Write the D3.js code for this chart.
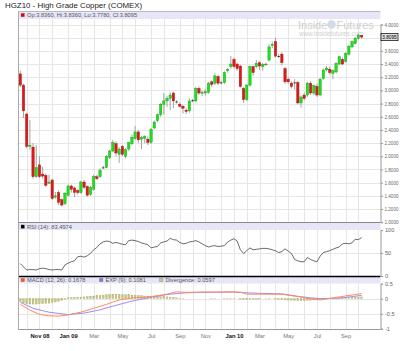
<!DOCTYPE html>
<html>
<head>
<meta charset="utf-8">
<script src="https://cdn.jsdelivr.net/npm/d3@7"></script>
<style>
body { margin: 0; background: #fff; }
svg { display: block; font-family: "Liberation Sans", Arial, sans-serif; }
</style>
</head>
<body>
<script>
// weekly candles, Sep 22 2008 .. Oct 11 2010
var opens = [3.25,3.08,2.64,2.15,2.14,1.69,1.87,1.73,1.71,1.59,1.64,1.38,1.45,1.34,1.28,1.41,1.55,1.52,1.48,1.45,
  1.61,1.54,1.42,1.50,1.69,1.69,1.83,1.83,1.98,2.08,2.19,2.03,2.15,2.00,2.11,2.19,2.27,2.37,2.26,2.27,
  2.26,2.21,2.43,2.54,2.63,2.79,2.84,2.88,2.96,2.83,2.79,2.76,2.70,2.69,2.85,2.84,3.03,2.96,2.96,2.97,
  3.13,3.11,3.21,3.12,3.12,3.30,3.36,3.47,3.40,3.37,3.03,2.86,3.08,3.36,3.36,3.42,3.36,3.39,3.46,3.68,
  3.74,3.52,3.55,3.33,3.17,3.11,3.12,3.12,2.81,2.93,2.93,3.11,2.96,3.06,2.93,3.18,3.31,3.32,3.26,3.28,
  3.40,3.47,3.44,3.55,3.66,3.71,3.79,3.836];
var highs = [3.30,3.10,2.66,2.55,2.20,2.17,2.00,1.84,1.74,1.72,1.66,1.46,1.48,1.36,1.46,1.57,1.57,1.54,1.50,1.63,
  1.64,1.56,1.55,1.72,1.72,1.82,1.86,2.02,2.10,2.25,2.23,2.14,2.17,2.12,2.22,2.33,2.46,2.40,2.31,2.32,
  2.30,2.43,2.54,2.65,2.81,2.96,2.92,2.97,2.98,2.85,2.82,2.78,2.73,2.88,2.87,3.05,3.06,3.00,3.02,3.13,
  3.15,3.26,3.24,3.14,3.29,3.34,3.52,3.50,3.42,3.39,3.05,3.10,3.38,3.38,3.46,3.44,3.42,3.42,3.70,3.74,
  3.80,3.55,3.58,3.36,3.20,3.14,3.17,3.14,2.92,2.97,3.13,3.14,3.09,3.10,3.19,3.33,3.37,3.36,3.32,3.43,
  3.53,3.50,3.58,3.69,3.76,3.81,3.86,3.836];
var lows = [3.05,2.58,2.12,2.10,1.66,1.67,1.67,1.66,1.54,1.58,1.34,1.36,1.26,1.24,1.26,1.39,1.45,1.38,1.42,1.43,
  1.50,1.39,1.40,1.48,1.64,1.67,1.81,1.82,1.96,2.06,2.00,1.90,2.00,1.97,2.08,2.17,2.25,2.20,2.11,2.20,
  2.17,2.19,2.41,2.52,2.60,2.63,2.75,2.70,2.73,2.80,2.74,2.65,2.64,2.66,2.82,2.82,2.93,2.91,2.92,2.95,
  3.05,3.08,3.08,3.09,3.10,3.27,3.33,3.33,3.30,3.04,2.81,2.84,3.06,3.22,3.34,3.31,3.30,3.37,3.44,3.64,
  3.50,3.49,3.38,3.10,3.10,3.03,3.01,2.79,2.74,2.85,2.90,2.93,2.93,2.90,2.91,3.16,3.29,3.24,3.17,3.26,
  3.38,3.38,3.42,3.53,3.64,3.70,3.77,3.778];
var closes = [3.08,2.69,2.15,2.17,1.69,1.83,1.69,1.70,1.56,1.61,1.36,1.40,1.30,1.26,1.44,1.55,1.50,1.45,1.45,1.61,
  1.53,1.41,1.53,1.69,1.66,1.79,1.83,2.00,2.08,2.21,2.05,2.11,2.03,2.10,2.21,2.29,2.37,2.25,2.29,2.30,
  2.21,2.41,2.52,2.63,2.79,2.84,2.88,2.93,2.84,2.83,2.76,2.73,2.68,2.84,2.85,3.03,2.96,2.97,2.98,3.11,
  3.09,3.22,3.11,3.12,3.27,3.32,3.40,3.36,3.33,3.06,2.86,3.08,3.36,3.27,3.41,3.37,3.39,3.40,3.66,3.70,
  3.52,3.52,3.42,3.13,3.13,3.06,3.12,2.81,2.90,2.88,3.11,2.96,3.07,2.93,3.17,3.31,3.34,3.27,3.30,3.41,
  3.51,3.40,3.56,3.67,3.74,3.79,3.84,3.8095];

var rsi = [27,20,13,14,14,13,16,17,16,14,13,14,14,13,24,28,31,33,42,43,
  41,44,49,57,62,70,74,76,75,71,73,71,69,68,77,78,77,75,72,70,
  68,61,63,64,72,74,76,82,79,78,73,70,71,74,75,77,74,70,66,63,
  65,66,64,65,66,74,78,81,76,57,49,55,61,57,58,59,60,60,59,57,
  55,51,53,59,54,49,36,33,31,31,40,36,33,31,43,51,53,55,58,61,
  63,70,71,70,72,80,79,83.5];

// MACD and signal, read at these week numbers
var macdWeek = [0,3,6,9,12,15,19,23,27,31,35,41,46,49,52,56,67,69,71,77,82,87,91,94,100,107];
var macdLine = [-0.19,-0.38,-0.52,-0.57,-0.58,-0.54,-0.45,-0.32,-0.19,-0.04,0.02,0.07,0.15,0.23,0.21,0.22,0.23,0.22,0.15,0.15,0.15,0.07,-0.01,-0.04,0.06,0.17];
var sigWeek = [0,4,9,15,20,25,30,35,41,46,51,56,67,70,75,82,87,91,94,100,104,107];
var sigLine = [-0.12,-0.32,-0.45,-0.53,-0.48,-0.37,-0.22,-0.08,0.05,0.14,0.19,0.21,0.22,0.20,0.18,0.16,0.08,0.03,0.0,0.02,0.07,0.11];
var divergence = [-0.10,-0.14,-0.17,-0.18,-0.18,-0.18,-0.17,-0.17,-0.16,-0.15,-0.13,-0.11,-0.09,-0.06,-0.02,0.03,0.04,0.04,0.05,0.05,
  0.06,0.07,0.08,0.09,0.10,0.11,0.12,0.13,0.14,0.15,0.15,0.15,0.14,0.13,0.13,0.12,0.12,0.11,0.10,0.09,
  0.09,0.08,0.08,0.08,0.07,0.07,0.06,0.05,0.04,0.03,0.02,0.01,0,0,0,0,0,0,0,0,
  0.01,0.01,0,0,0.01,0.01,0.01,0.01,0,-0.02,-0.03,-0.03,-0.02,-0.02,-0.02,-0.01,0,0.01,0.01,0,
  -0.01,-0.02,-0.03,-0.04,-0.05,-0.05,-0.06,-0.07,-0.07,-0.07,-0.06,-0.05,-0.04,-0.03,-0.02,-0.01,0,0.01,0.01,0.02,
  0.03,0.03,0.04,0.04,0.05,0.05,0.05,0.06];

var priceTicks = [1.0,1.2,1.4,1.6,1.8,2.0,2.2,2.4,2.6,2.8,3.0,3.2,3.4,3.6,3.8,4.0];
var rsiTicks = [0,50,100];
var macdTicks = [-1,-0.5,0,0.5];
var monthLabels = ["Nov 08","Jan 09","Mar","May","Jul","Sep","Nov","Jan 10","Mar","May","Jul","Sep"];

var WIDTH = 400, HEIGHT = 351;
var LEFT = 18.5, RIGHT = 380.5;
var MAIN_TOP = 11.5, MAIN_BOT = 222.5;
var RSI_BOT = 276.5, MACD_BOT = 329.5;

var svg = d3.select('body').append('svg')
  .attr('width', WIDTH)
  .attr('height', HEIGHT);

var weeks = d3.timeMonday.range(new Date(2008, 8, 22), new Date(2010, 9, 12));

var x = d3.scaleTime()
  .domain([weeks[0], weeks[weeks.length - 1]])
  .range([20.3, 361.6]);
var yP = d3.scaleLinear().domain([1, 4]).range([222.2, 24.5]);
var yR = d3.scaleLinear().domain([0, 100]).range([276, 230]);
var yM = d3.scaleLinear().domain([-1, 0.5]).range([328.7, 283.7]);

var monthStarts = weeks.filter(function (d) { return d.getDate() <= 7; });
var labelled = monthStarts.filter(function (d) { return d.getMonth() % 2 === 0; });
var last = closes[closes.length - 1];

// grid
var grid = svg.append('g').attr('stroke', '#e6e6e6').attr('stroke-width', 1);
grid.selectAll('.v').data(monthStarts).enter().append('line')
  .attr('x1', function (d) { return Math.round(x(d)) + 0.5; })
  .attr('x2', function (d) { return Math.round(x(d)) + 0.5; })
  .attr('y1', MAIN_TOP).attr('y2', MACD_BOT);
grid.selectAll('.hp').data(priceTicks.slice(1)).enter().append('line')
  .attr('x1', LEFT).attr('x2', RIGHT)
  .attr('y1', function (d) { return Math.round(yP(d)) + 0.5; })
  .attr('y2', function (d) { return Math.round(yP(d)) + 0.5; });
grid.selectAll('.hr').data([50]).enter().append('line')
  .attr('x1', LEFT).attr('x2', RIGHT)
  .attr('y1', function (d) { return Math.round(yR(d)) + 0.5; })
  .attr('y2', function (d) { return Math.round(yR(d)) + 0.5; });
grid.selectAll('.hm').data([0, -0.5]).enter().append('line')
  .attr('x1', LEFT).attr('x2', RIGHT)
  .attr('y1', function (d) { return Math.round(yM(d)) + 0.5; })
  .attr('y2', function (d) { return Math.round(yM(d)) + 0.5; });

// watermark
var wm = svg.append('g').attr('fill', '#cfcfcf');
wm.append('text').attr('x', 298).attr('y', 28.5).attr('font-size', 11).text('Inside');
wm.append('circle').attr('cx', 331.5).attr('cy', 24.5).attr('r', 4.2).attr('fill', '#d3dbe6');
wm.append('text').attr('x', 336.5).attr('y', 28.5).attr('font-size', 11).text('Futures');
wm.append('text').attr('x', 299).attr('y', 36).attr('font-size', 6.3).text('www.insidefutures.com');

// legend bands
var bands = [[MAIN_TOP, 7.5], [MAIN_BOT + 0.5, 7], [RSI_BOT + 0.5, 6.5]];
svg.selectAll('.band').data(bands).enter().append('rect')
  .attr('x', LEFT).attr('width', RIGHT - LEFT)
  .attr('y', function (d) { return d[0]; })
  .attr('height', function (d) { return d[1]; })
  .attr('fill', '#e6e6f8');

// candles
var idx = d3.range(weeks.length);
svg.append('g').selectAll('line').data(idx).enter().append('line')
  .attr('x1', function (i) { return x(weeks[i]); })
  .attr('x2', function (i) { return x(weeks[i]); })
  .attr('y1', function (i) { return yP(highs[i]); })
  .attr('y2', function (i) { return yP(lows[i]); })
  .attr('stroke', '#9a9a9a').attr('stroke-width', 0.9);

svg.append('g').selectAll('rect').data(idx).enter().append('rect')
  .attr('x', function (i) { return x(weeks[i]) - 1.2; })
  .attr('width', 2.4)
  .attr('y', function (i) { return yP(Math.max(opens[i], closes[i])); })
  .attr('height', function (i) { return Math.max(0.8, Math.abs(yP(opens[i]) - yP(closes[i]))); })
  .attr('fill', function (i) {
    if (opens[i] === closes[i]) return '#111';
    return closes[i] > opens[i] ? '#1ee01e' : '#e01818';
  })
  .attr('stroke', function (i) {
    if (opens[i] === closes[i]) return 'none';
    return closes[i] > opens[i] ? '#13a013' : '#a01010';
  })
  .attr('stroke-width', 0.4);

// RSI
svg.append('path')
  .attr('d', d3.line()
    .x(function (v, i) { return x(weeks[i]); })
    .y(function (v) { return yR(v); })(rsi))
  .attr('fill', 'none').attr('stroke', '#444').attr('stroke-width', 0.8);

// MACD
svg.append('g').selectAll('rect').data(idx).enter().append('rect')
  .attr('x', function (i) { return x(weeks[i]) - 0.9; })
  .attr('width', 1.8)
  .attr('y', function (i) { return Math.min(yM(0), yM(divergence[i])); })
  .attr('height', function (i) { return Math.abs(yM(0) - yM(divergence[i])); })
  .attr('fill', '#c4c486').attr('stroke', '#a9a95e').attr('stroke-width', 0.3);

var mline = d3.line()
  .x(function (d) { return x(weeks[d[0]]); })
  .y(function (d) { return yM(d[1]); });
svg.append('path')
  .attr('d', mline(sigWeek.map(function (w, k) { return [w, sigLine[k]]; })))
  .attr('fill', 'none').attr('stroke', '#a08cf4').attr('stroke-width', 1);
svg.append('path')
  .attr('d', mline(macdWeek.map(function (w, k) { return [w, macdLine[k]]; })))
  .attr('fill', 'none').attr('stroke', '#ff8c5a').attr('stroke-width', 1);

// borders
svg.append('line').attr('x1', LEFT).attr('x2', RIGHT).attr('y1', MAIN_TOP).attr('y2', MAIN_TOP).attr('stroke', '#b8b8c8');
svg.append('line').attr('x1', LEFT).attr('x2', RIGHT).attr('y1', MAIN_BOT).attr('y2', MAIN_BOT).attr('stroke', '#888');
svg.append('line').attr('x1', LEFT).attr('x2', RIGHT).attr('y1', RSI_BOT).attr('y2', RSI_BOT).attr('stroke', '#000').attr('stroke-width', 1.5);
svg.append('line').attr('x1', LEFT).attr('x2', RIGHT).attr('y1', MACD_BOT).attr('y2', MACD_BOT).attr('stroke', '#999');
svg.append('line').attr('x1', LEFT).attr('x2', LEFT).attr('y1', MAIN_TOP).attr('y2', MACD_BOT).attr('stroke', '#aaa');

// right axes
function styleAxis(g) {
  g.select('.domain').attr('stroke', '#999');
  g.selectAll('.tick line').attr('stroke', '#999');
  g.selectAll('.tick text').attr('fill', '#666').attr('font-size', 5.6);
}
var priceAxis = svg.append('g').attr('transform', 'translate(' + RIGHT + ',0)')
  .call(d3.axisRight(yP).tickValues(priceTicks)
    .tickFormat(function (d) { return Math.abs(d - last) < 0.05 ? '' : d3.format('.4f')(d); })
    .tickSize(2.5).tickPadding(1.5))
  .call(styleAxis);
priceAxis.selectAll('.tick text').attr('font-size', 4.9)
  .filter(function () { return this.textContent !== ''; })
  .attr('textLength', 14).attr('lengthAdjust', 'spacingAndGlyphs');
svg.append('g').attr('transform', 'translate(' + RIGHT + ',0)')
  .call(d3.axisRight(yR).tickValues(rsiTicks).tickSize(2.5).tickPadding(2))
  .call(styleAxis);
svg.append('g').attr('transform', 'translate(' + RIGHT + ',0)')
  .call(d3.axisRight(yM).tickValues(macdTicks).tickFormat(function (d) { return String(d); }).tickSize(2.5).tickPadding(2))
  .call(styleAxis);

// bottom axis
var xa = svg.append('g').attr('transform', 'translate(0,' + MACD_BOT + ')')
  .call(d3.axisBottom(x).tickValues(labelled)
    .tickFormat(function (d, i) { return monthLabels[i]; })
    .tickSize(0).tickPadding(4));
xa.select('.domain').remove();
xa.selectAll('.tick text')
  .attr('font-size', 5.8)
  .attr('font-weight', function (d, i) { return monthLabels[i].indexOf(' ') > 0 ? 'bold' : 'normal'; })
  .attr('fill', function (d, i) { return monthLabels[i].indexOf(' ') > 0 ? '#111' : '#777'; });

// last value marker
svg.append('rect').attr('x', 381).attr('y', yP(last) - 3.6).attr('width', 17).attr('height', 7.2)
  .attr('fill', '#ddd').attr('stroke', '#000').attr('stroke-width', 0.7);
svg.append('text').attr('x', 382.3).attr('y', yP(last) + 2)
  .attr('font-size', 5).attr('fill', '#000')
  .attr('textLength', 14.4).attr('lengthAdjust', 'spacingAndGlyphs')
  .text(d3.format('.4f')(last));

// title and legends
svg.append('text').attr('x', 5).attr('y', 8.3).attr('font-size', 7.9).attr('fill', '#222')
  .text('HGZ10 - High Grade Copper (COMEX)');

function legend(xp, y, color, label) {
  svg.append('rect').attr('x', xp).attr('y', y - 4).attr('width', 3.5).attr('height', 3.5)
    .attr('fill', color).attr('stroke', '#777').attr('stroke-width', 0.3);
  svg.append('text').attr('x', xp + 6).attr('y', y).attr('font-size', 5.7).attr('fill', '#555').text(label);
}
legend(21, 17.3, '#dd0000', 'Op:' + opens[107].toFixed(4) + ', Hi:' + highs[107].toFixed(4) + ', Lo:' + lows[107].toFixed(4) + ', Cl:' + closes[107].toFixed(4));
legend(21, 228.9, '#000', 'RSI (14): 83.4974');
legend(21, 282.3, '#ff5a14', 'MACD (12, 26): 0.1678');
legend(99.5, 282.3, '#9966ee', 'EXP (9): 0.1081');
legend(159.5, 282.3, '#c8c896', 'Divergence: 0.0597');
</script>
</body>
</html>
